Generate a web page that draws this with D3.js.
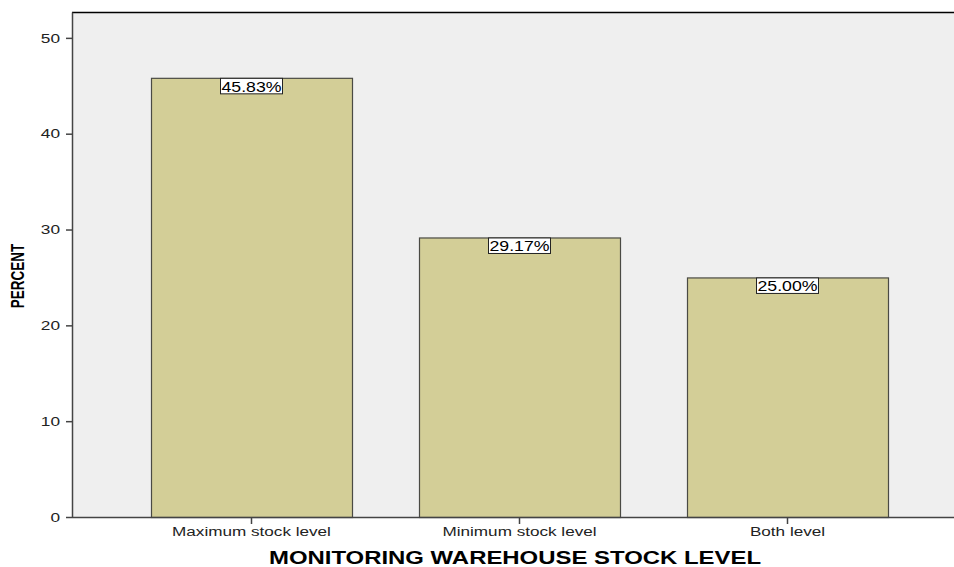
<!DOCTYPE html>
<html>
<head>
<meta charset="utf-8">
<script src="https://cdn.jsdelivr.net/npm/d3@7"></script>
<style>
  body { margin: 0; background: #fff; }
  svg { display: block; font-family: "Liberation Sans", Arial, sans-serif; }
</style>
</head>
<body>
<svg width="954" height="567"></svg>
<script>
const categories = ["Maximum stock level", "Minimum stock level", "Both level"];
const percents = [45.83, 29.17, 25.00];
const yTicks = [0, 10, 20, 30, 40, 50];

const svg = d3.select("svg");
const plotLeft = 72, plotRight = 954, plotTop = 12, plotBottom = 517;
// the original picture is stretched sideways, text too
const stretch = 1.33;

const x = d3.scaleBand()
  .domain(categories)
  .range([117.5, 921.5])
  .paddingInner(0.25)
  .paddingOuter(0.125);

const y = d3.scaleLinear()
  .domain([0, 52.7])
  .range([plotBottom, plotTop]);

// plot background
svg.append("rect")
  .attr("x", plotLeft).attr("y", plotTop)
  .attr("width", plotRight - plotLeft).attr("height", plotBottom - plotTop)
  .attr("fill", "#efefef");

svg.append("line")
  .attr("x1", plotLeft).attr("x2", plotRight)
  .attr("y1", plotTop + 0.5).attr("y2", plotTop + 0.5)
  .attr("stroke", "#000").attr("stroke-width", 1.5);

// bars
svg.append("g")
  .selectAll("rect")
  .data(percents)
  .enter().append("rect")
  .attr("x", (d, i) => x(categories[i]) + 0.5)
  .attr("y", d => y(d) + 0.5)
  .attr("width", x.bandwidth())
  .attr("height", d => plotBottom - y(d))
  .attr("fill", "#d3ce97")
  .attr("stroke", "#4a4a44")
  .attr("stroke-width", 1.2);

// y axis
const gy = svg.append("g")
  .attr("transform", `translate(${plotLeft},0)`)
  .call(d3.axisLeft(y).tickValues(yTicks).tickSize(6).tickPadding(3).tickSizeOuter(0));
gy.select(".domain").attr("stroke", "#444").attr("stroke-width", 1.5);
gy.selectAll(".tick line").attr("stroke", "#444").attr("stroke-width", 1.5);
gy.selectAll(".tick text").attr("font-size", 13).attr("fill", "#222")
  .attr("font-family", "Liberation Sans, Arial, sans-serif")
  .attr("transform", `scale(${stretch},1)`);

// x axis
const gx = svg.append("g")
  .attr("transform", `translate(0,${plotBottom})`)
  .call(d3.axisBottom(x).tickSize(7).tickPadding(3).tickSizeOuter(0));
gx.select(".domain").attr("d", `M${plotLeft},0.5H${plotRight}`).attr("stroke", "#444").attr("stroke-width", 1.5);
gx.selectAll(".tick line").attr("stroke", "#444").attr("stroke-width", 1.5);
gx.selectAll(".tick text").attr("font-size", 12.5).attr("fill", "#222")
  .attr("font-family", "Liberation Sans, Arial, sans-serif")
  .attr("transform", "scale(1.37,1)");

// value labels
const lab = svg.append("g")
  .selectAll("g")
  .data(percents)
  .enter().append("g")
  .attr("transform", (d, i) => `translate(${x(categories[i]) + x.bandwidth() / 2},${y(d)})`);

const labStretch = 1.18;
lab.append("text")
  .attr("y", 14)
  .attr("text-anchor", "middle")
  .attr("font-size", 15)
  .attr("fill", "#000")
  .attr("transform", `scale(${labStretch},1)`)
  .text(d => d.toFixed(2) + "%")
  .each(function () {
    const b = this.getBBox();
    const w = b.width * labStretch + 2;
    d3.select(this.parentNode).insert("rect", "text")
      .attr("x", -w / 2).attr("y", 0.5)
      .attr("width", w).attr("height", 15.5)
      .attr("fill", "#fff")
      .attr("stroke", "#222")
      .attr("stroke-width", 1);
  });

// axis titles
svg.append("text")
  .attr("transform", `translate(24,276) scale(1.4,1) rotate(-90)`)
  .attr("text-anchor", "middle")
  .attr("font-size", 13.5)
  .attr("font-weight", "bold")
  .attr("fill", "#000")
  .text("PERCENT");

svg.append("text")
  .attr("transform", `translate(515,564) scale(${stretch},1)`)
  .attr("text-anchor", "middle")
  .attr("font-size", 18)
  .attr("font-weight", "bold")
  .attr("fill", "#000")
  .text("MONITORING WAREHOUSE STOCK LEVEL");
</script>
</body>
</html>
